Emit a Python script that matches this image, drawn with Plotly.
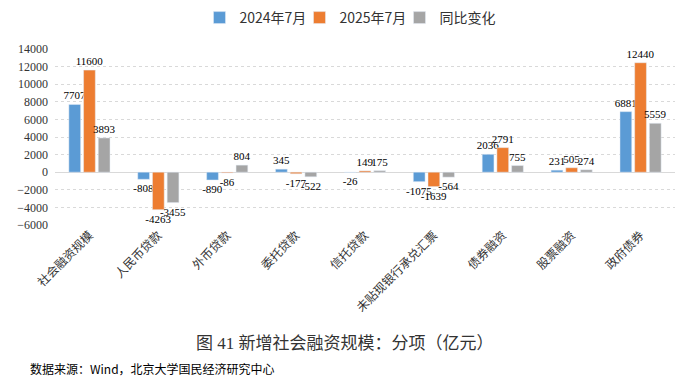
import plotly.graph_objects as go

categories = ["社会融资规模", "人民币贷款", "外币贷款", "委托贷款", "信托贷款",
              "未贴现银行承兑汇票", "债券融资", "股票融资", "政府债券"]
s2024 = [7707, -808, -890, 345, -26, -1075, 2036, 231, 6881]
s2025 = [11600, -4263, -86, -177, 149, -1639, 2791, 505, 12440]
yoy = [3893, -3455, 804, -522, 175, -564, 755, 274, 5559]
series_names = ["2024年7月", "2025年7月", "同比变化"]
colors = ["#5B9BD5", "#ED7D31", "#A5A5A5"]
y_ticks = [-6000, -4000, -2000, 0, 2000, 4000, 6000, 8000, 10000, 12000, 14000]

serif = "Liberation Serif, Times New Roman, Noto Sans CJK SC"
cjk = "Noto Sans CJK SC"

OFF = 8  # page body margin
W, H = 691 - OFF, 378 - OFF
PLOT_TOP, PLOT_BOTTOM = 49 - OFF, 225 - OFF
PLOT_LEFT, PLOT_RIGHT = 55 - OFF, 675 - OFF
PH = PLOT_BOTTOM - PLOT_TOP
PW = PLOT_RIGHT - PLOT_LEFT

fig = go.Figure()
for name, vals, col in zip(series_names, [s2024, s2025, yoy], colors):
    fig.add_trace(go.Bar(
        x=categories, y=vals, name=name, marker_color=col,
        text=[str(v) for v in vals], textposition="outside",
        textfont=dict(family=serif, size=11, color="#000"),
        cliponaxis=False, constraintext="none",
    ))

fig.update_layout(
    width=W, height=H,
    margin=dict(l=PLOT_LEFT, r=W - PLOT_RIGHT, t=PLOT_TOP, b=H - PLOT_BOTTOM, autoexpand=False),
    plot_bgcolor="white", paper_bgcolor="white",
    barmode="group", bargap=0.36, bargroupgap=0.2,
    legend=dict(orientation="h", x=0.475, xanchor="center", y=1 - (18 - OFF) / H, yanchor="middle",
                yref="container", font=dict(family=cjk, size=14, color="#333"),
                itemwidth=30, entrywidth=55, traceorder="normal"),
    showlegend=True,
    xaxis=dict(tickangle=-45, tickfont=dict(family=cjk, size=12, color="#333"),
               showline=False, ticks="", showgrid=False, automargin=False),
    yaxis=dict(range=[-6000, 14000], tickvals=y_ticks, tickformat="d",
               tickfont=dict(family=serif, size=12, color="#333"),
               showgrid=True, gridcolor="#D9D9D9", griddash="dot",
               zeroline=True, zerolinecolor="#D9D9D9", zerolinewidth=1,
               ticks="", ticklabelstandoff=6, automargin=False),
    annotations=[
        dict(text="图 41 新增社会融资规模：分项（亿元）",
             x=(345 - 55) / PW, y=-(343 - 225) / PH,
             xref="paper", yref="paper", showarrow=False,
             font=dict(family=serif, size=17, color="#333"), yanchor="middle"),
        dict(text="数据来源：Wind，北京大学国民经济研究中心",
             x=(28 - 55) / PW, y=-(368 - 225) / PH,
             xref="paper", yref="paper", showarrow=False, xanchor="left", yanchor="middle",
             font=dict(family=cjk, size=12, color="#000")),
    ],
)
fig.write_html("out.html")
